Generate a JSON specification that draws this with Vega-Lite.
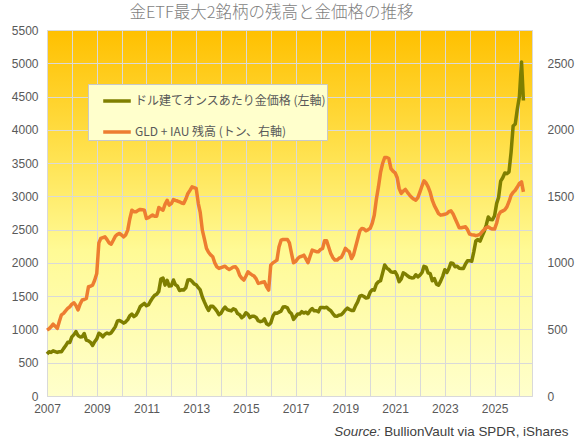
{
  "$schema": "https://vega.github.io/schema/vega-lite/v6.json",
  "description": "Gold price in USD per ounce (left axis) and combined GLD + IAU holdings in tonnes (right axis), monthly, 2007-2026.",
  "width": 485,
  "height": 366,
  "autosize": {"type": "none"},
  "padding": {"left": 47, "top": 30, "right": 44, "bottom": 46},
  "background": "white",
  "title": {
    "text": "金ETF最大2銘柄の残高と金価格の推移",
    "font": "Noto Sans CJK JP",
    "fontSize": 16.5,
    "fontWeight": 300,
    "color": "#7F7F7F",
    "anchor": "middle",
    "offset": 3,
    "dx": -18
  },
  "data": {
    "values": [
      {"d": "2007-01", "g": 631, "e": 495}, {"d": "2007-02", "g": 665, "e": 505}, {"d": "2007-03", "g": 655, "e": 520}, {"d": "2007-04", "g": 679, "e": 540}, {"d": "2007-05", "g": 667, "e": 525}, {"d": "2007-06", "g": 655, "e": 508}, {"d": "2007-07", "g": 665, "e": 560}, {"d": "2007-08", "g": 665, "e": 610}, {"d": "2007-09", "g": 712, "e": 621}, {"d": "2007-10", "g": 754, "e": 640}, {"d": "2007-11", "g": 806, "e": 658}, {"d": "2007-12", "g": 803, "e": 670},
      {"d": "2008-01", "g": 889, "e": 690}, {"d": "2008-02", "g": 922, "e": 700}, {"d": "2008-03", "g": 968, "e": 680}, {"d": "2008-04", "g": 909, "e": 646}, {"d": "2008-05", "g": 888, "e": 690}, {"d": "2008-06", "g": 890, "e": 721}, {"d": "2008-07", "g": 939, "e": 725}, {"d": "2008-08", "g": 839, "e": 733}, {"d": "2008-09", "g": 829, "e": 821}, {"d": "2008-10", "g": 807, "e": 825}, {"d": "2008-11", "g": 760, "e": 833}, {"d": "2008-12", "g": 816, "e": 870},
      {"d": "2009-01", "g": 858, "e": 921}, {"d": "2009-02", "g": 943, "e": 1150}, {"d": "2009-03", "g": 924, "e": 1184}, {"d": "2009-04", "g": 890, "e": 1190}, {"d": "2009-05", "g": 928, "e": 1196}, {"d": "2009-06", "g": 946, "e": 1175}, {"d": "2009-07", "g": 934, "e": 1150}, {"d": "2009-08", "g": 949, "e": 1141}, {"d": "2009-09", "g": 996, "e": 1170}, {"d": "2009-10", "g": 1043, "e": 1200}, {"d": "2009-11", "g": 1127, "e": 1215}, {"d": "2009-12", "g": 1134, "e": 1221},
      {"d": "2010-01", "g": 1118, "e": 1210}, {"d": "2010-02", "g": 1095, "e": 1196}, {"d": "2010-03", "g": 1113, "e": 1210}, {"d": "2010-04", "g": 1148, "e": 1246}, {"d": "2010-05", "g": 1205, "e": 1330}, {"d": "2010-06", "g": 1232, "e": 1396}, {"d": "2010-07", "g": 1193, "e": 1385}, {"d": "2010-08", "g": 1215, "e": 1384}, {"d": "2010-09", "g": 1271, "e": 1395}, {"d": "2010-10", "g": 1343, "e": 1402}, {"d": "2010-11", "g": 1370, "e": 1400}, {"d": "2010-12", "g": 1391, "e": 1396},
      {"d": "2011-01", "g": 1356, "e": 1334}, {"d": "2011-02", "g": 1372, "e": 1340}, {"d": "2011-03", "g": 1424, "e": 1350}, {"d": "2011-04", "g": 1474, "e": 1359}, {"d": "2011-05", "g": 1512, "e": 1351}, {"d": "2011-06", "g": 1529, "e": 1351}, {"d": "2011-07", "g": 1572, "e": 1416}, {"d": "2011-08", "g": 1756, "e": 1405}, {"d": "2011-09", "g": 1772, "e": 1396}, {"d": "2011-10", "g": 1666, "e": 1440}, {"d": "2011-11", "g": 1739, "e": 1471}, {"d": "2011-12", "g": 1652, "e": 1434},
      {"d": "2012-01", "g": 1656, "e": 1445}, {"d": "2012-02", "g": 1743, "e": 1476}, {"d": "2012-03", "g": 1674, "e": 1470}, {"d": "2012-04", "g": 1650, "e": 1465}, {"d": "2012-05", "g": 1585, "e": 1459}, {"d": "2012-06", "g": 1596, "e": 1450}, {"d": "2012-07", "g": 1594, "e": 1446}, {"d": "2012-08", "g": 1627, "e": 1480}, {"d": "2012-09", "g": 1745, "e": 1522}, {"d": "2012-10", "g": 1747, "e": 1545}, {"d": "2012-11", "g": 1722, "e": 1571}, {"d": "2012-12", "g": 1685, "e": 1565},
      {"d": "2013-01", "g": 1671, "e": 1559}, {"d": "2013-02", "g": 1627, "e": 1446}, {"d": "2013-03", "g": 1593, "e": 1380}, {"d": "2013-04", "g": 1487, "e": 1246}, {"d": "2013-05", "g": 1414, "e": 1180}, {"d": "2013-06", "g": 1343, "e": 1109}, {"d": "2013-07", "g": 1286, "e": 1080}, {"d": "2013-08", "g": 1347, "e": 1060}, {"d": "2013-09", "g": 1349, "e": 1046}, {"d": "2013-10", "g": 1316, "e": 1000}, {"d": "2013-11", "g": 1276, "e": 970}, {"d": "2013-12", "g": 1222, "e": 959},
      {"d": "2014-01", "g": 1244, "e": 965}, {"d": "2014-02", "g": 1301, "e": 971}, {"d": "2014-03", "g": 1336, "e": 975}, {"d": "2014-04", "g": 1299, "e": 960}, {"d": "2014-05", "g": 1288, "e": 951}, {"d": "2014-06", "g": 1279, "e": 960}, {"d": "2014-07", "g": 1311, "e": 970}, {"d": "2014-08", "g": 1296, "e": 971}, {"d": "2014-09", "g": 1239, "e": 950}, {"d": "2014-10", "g": 1222, "e": 908}, {"d": "2014-11", "g": 1176, "e": 885}, {"d": "2014-12", "g": 1200, "e": 871},
      {"d": "2015-01", "g": 1251, "e": 900}, {"d": "2015-02", "g": 1227, "e": 933}, {"d": "2015-03", "g": 1179, "e": 920}, {"d": "2015-04", "g": 1198, "e": 910}, {"d": "2015-05", "g": 1199, "e": 901}, {"d": "2015-06", "g": 1181, "e": 880}, {"d": "2015-07", "g": 1131, "e": 846}, {"d": "2015-08", "g": 1117, "e": 850}, {"d": "2015-09", "g": 1125, "e": 855}, {"d": "2015-10", "g": 1159, "e": 858}, {"d": "2015-11", "g": 1086, "e": 820}, {"d": "2015-12", "g": 1068, "e": 796},
      {"d": "2016-01", "g": 1097, "e": 983}, {"d": "2016-02", "g": 1200, "e": 1000}, {"d": "2016-03", "g": 1246, "e": 1010}, {"d": "2016-04", "g": 1242, "e": 1021}, {"d": "2016-05", "g": 1260, "e": 1120}, {"d": "2016-06", "g": 1276, "e": 1171}, {"d": "2016-07", "g": 1337, "e": 1176}, {"d": "2016-08", "g": 1341, "e": 1176}, {"d": "2016-09", "g": 1326, "e": 1176}, {"d": "2016-10", "g": 1267, "e": 1150}, {"d": "2016-11", "g": 1236, "e": 1071}, {"d": "2016-12", "g": 1152, "e": 1001},
      {"d": "2017-01", "g": 1192, "e": 1010}, {"d": "2017-02", "g": 1234, "e": 1033}, {"d": "2017-03", "g": 1231, "e": 1045}, {"d": "2017-04", "g": 1267, "e": 1050}, {"d": "2017-05", "g": 1246, "e": 1058}, {"d": "2017-06", "g": 1260, "e": 1030}, {"d": "2017-07", "g": 1236, "e": 1001}, {"d": "2017-08", "g": 1283, "e": 1050}, {"d": "2017-09", "g": 1314, "e": 1096}, {"d": "2017-10", "g": 1280, "e": 1090}, {"d": "2017-11", "g": 1282, "e": 1084}, {"d": "2017-12", "g": 1265, "e": 1084},
      {"d": "2018-01", "g": 1331, "e": 1100}, {"d": "2018-02", "g": 1331, "e": 1109}, {"d": "2018-03", "g": 1325, "e": 1166}, {"d": "2018-04", "g": 1335, "e": 1166}, {"d": "2018-05", "g": 1303, "e": 1120}, {"d": "2018-06", "g": 1282, "e": 1071}, {"d": "2018-07", "g": 1238, "e": 1040}, {"d": "2018-08", "g": 1202, "e": 1021}, {"d": "2018-09", "g": 1199, "e": 1021}, {"d": "2018-10", "g": 1215, "e": 1035}, {"d": "2018-11", "g": 1221, "e": 1041}, {"d": "2018-12", "g": 1250, "e": 1070},
      {"d": "2019-01", "g": 1292, "e": 1109}, {"d": "2019-02", "g": 1320, "e": 1095}, {"d": "2019-03", "g": 1300, "e": 1084}, {"d": "2019-04", "g": 1286, "e": 1033}, {"d": "2019-05", "g": 1284, "e": 1060}, {"d": "2019-06", "g": 1359, "e": 1121}, {"d": "2019-07", "g": 1413, "e": 1180}, {"d": "2019-08", "g": 1500, "e": 1240}, {"d": "2019-09", "g": 1511, "e": 1259}, {"d": "2019-10", "g": 1495, "e": 1255}, {"d": "2019-11", "g": 1471, "e": 1241}, {"d": "2019-12", "g": 1480, "e": 1250},
      {"d": "2020-01", "g": 1560, "e": 1260}, {"d": "2020-02", "g": 1597, "e": 1300}, {"d": "2020-03", "g": 1591, "e": 1359}, {"d": "2020-04", "g": 1683, "e": 1480}, {"d": "2020-05", "g": 1716, "e": 1571}, {"d": "2020-06", "g": 1732, "e": 1680}, {"d": "2020-07", "g": 1846, "e": 1747}, {"d": "2020-08", "g": 1968, "e": 1792}, {"d": "2020-09", "g": 1922, "e": 1792}, {"d": "2020-10", "g": 1901, "e": 1784}, {"d": "2020-11", "g": 1866, "e": 1709}, {"d": "2020-12", "g": 1858, "e": 1690},
      {"d": "2021-01", "g": 1867, "e": 1677}, {"d": "2021-02", "g": 1808, "e": 1640}, {"d": "2021-03", "g": 1718, "e": 1560}, {"d": "2021-04", "g": 1760, "e": 1522}, {"d": "2021-05", "g": 1850, "e": 1540}, {"d": "2021-06", "g": 1834, "e": 1552}, {"d": "2021-07", "g": 1807, "e": 1530}, {"d": "2021-08", "g": 1785, "e": 1510}, {"d": "2021-09", "g": 1775, "e": 1492}, {"d": "2021-10", "g": 1777, "e": 1480}, {"d": "2021-11", "g": 1822, "e": 1471}, {"d": "2021-12", "g": 1790, "e": 1490},
      {"d": "2022-01", "g": 1817, "e": 1534}, {"d": "2022-02", "g": 1856, "e": 1580}, {"d": "2022-03", "g": 1948, "e": 1617}, {"d": "2022-04", "g": 1937, "e": 1600}, {"d": "2022-05", "g": 1849, "e": 1571}, {"d": "2022-06", "g": 1837, "e": 1530}, {"d": "2022-07", "g": 1732, "e": 1471}, {"d": "2022-08", "g": 1765, "e": 1430}, {"d": "2022-09", "g": 1681, "e": 1400}, {"d": "2022-10", "g": 1665, "e": 1370}, {"d": "2022-11", "g": 1726, "e": 1359}, {"d": "2022-12", "g": 1798, "e": 1362},
      {"d": "2023-01", "g": 1898, "e": 1366}, {"d": "2023-02", "g": 1855, "e": 1370}, {"d": "2023-03", "g": 1912, "e": 1385}, {"d": "2023-04", "g": 2000, "e": 1391}, {"d": "2023-05", "g": 1992, "e": 1370}, {"d": "2023-06", "g": 1943, "e": 1334}, {"d": "2023-07", "g": 1951, "e": 1300}, {"d": "2023-08", "g": 1919, "e": 1264}, {"d": "2023-09", "g": 1916, "e": 1264}, {"d": "2023-10", "g": 1916, "e": 1268}, {"d": "2023-11", "g": 1985, "e": 1271}, {"d": "2023-12", "g": 2031, "e": 1250},
      {"d": "2024-01", "g": 2034, "e": 1216}, {"d": "2024-02", "g": 2025, "e": 1212}, {"d": "2024-03", "g": 2163, "e": 1210}, {"d": "2024-04", "g": 2331, "e": 1205}, {"d": "2024-05", "g": 2351, "e": 1209}, {"d": "2024-06", "g": 2326, "e": 1215}, {"d": "2024-07", "g": 2398, "e": 1234}, {"d": "2024-08", "g": 2470, "e": 1250}, {"d": "2024-09", "g": 2571, "e": 1265}, {"d": "2024-10", "g": 2690, "e": 1271}, {"d": "2024-11", "g": 2651, "e": 1260}, {"d": "2024-12", "g": 2648, "e": 1254},
      {"d": "2025-01", "g": 2709, "e": 1254}, {"d": "2025-02", "g": 2895, "e": 1300}, {"d": "2025-03", "g": 2984, "e": 1359}, {"d": "2025-04", "g": 3230, "e": 1384}, {"d": "2025-05", "g": 3280, "e": 1390}, {"d": "2025-06", "g": 3352, "e": 1400}, {"d": "2025-07", "g": 3340, "e": 1421}, {"d": "2025-08", "g": 3368, "e": 1460}, {"d": "2025-09", "g": 3665, "e": 1509}, {"d": "2025-10", "g": 4058, "e": 1530}, {"d": "2025-11", "g": 4087, "e": 1546}, {"d": "2025-12", "g": 4310, "e": 1570},
      {"d": "2026-01", "g": 4500, "e": 1597}, {"d": "2026-02", "g": 5020, "e": 1609}, {"d": "2026-03", "g": 4440, "e": 1534}
    ]
  },
  "layer": [
    {
      "mark": {"type": "line", "strokeWidth": 3.5, "strokeJoin": "round"},
      "encoding": {
        "x": {
          "field": "d",
          "type": "temporal",
          "scale": {"domain": ["2007-01-01", "2026-07-05"]},
          "axis": {
            "orient": "bottom",
            "values": [
              {"year": 2007}, {"year": 2008}, {"year": 2009}, {"year": 2010}, {"year": 2011},
              {"year": 2012}, {"year": 2013}, {"year": 2014}, {"year": 2015}, {"year": 2016},
              {"year": 2017}, {"year": 2018}, {"year": 2019}, {"year": 2020}, {"year": 2021},
              {"year": 2022}, {"year": 2023}, {"year": 2024}, {"year": 2025}, {"year": 2026}
            ],
            "labelExpr": "year(datum.value) % 2 == 1 ? timeFormat(datum.value, '%Y') : ''",
            "labelFlush": false,
            "labelOverlap": false,
            "grid": true,
            "ticks": false,
            "domain": false,
            "labelPadding": 7,
            "title": "BullionVault via SPDR, iShares",
            "titleFont": "Liberation Sans",
            "titleFontSize": 13.4,
            "titleFontWeight": "normal",
            "titleColor": "#404040",
            "titleAnchor": null,
            "titleAlign": "right",
            "titleBaseline": "middle",
            "titleX": 521,
            "titleY": 35
          }
        },
        "y": {
          "field": "g",
          "type": "quantitative",
          "scale": {"domain": [0, 5500], "nice": false},
          "axis": {
            "values": [0, 500, 1000, 1500, 2000, 2500, 3000, 3500, 4000, 4500, 5000, 5500],
            "format": "d",
            "grid": true,
            "ticks": false,
            "domain": false,
            "labelPadding": 9,
            "title": null
          }
        },
        "color": {
          "datum": "ドル建てオンスあたり金価格 (左軸)",
          "type": "nominal",
          "scale": {
            "domain": ["ドル建てオンスあたり金価格 (左軸)", "GLD + IAU 残高 (トン、右軸)"],
            "range": ["#7F7F00", "#ED7D31"]
          },
          "legend": {
            "title": null,
            "orient": "none",
            "legendX": 41,
            "legendY": 54,
            "direction": "vertical",
            "fillColor": "#FFFFCC",
            "strokeColor": "#C8C8C8",
            "padding": 1,
            "rowPadding": 8,
            "symbolType": "stroke",
            "symbolSize": 760,
            "symbolStrokeWidth": 3.5,
            "symbolOffset": 12,
            "labelOffset": 2,
            "labelFont": "Noto Sans CJK JP",
            "labelFontSize": 12,
            "labelColor": "#595959",
            "labelLimit": 400
          }
        }
      }
    },
    {
      "mark": {"type": "line", "strokeWidth": 3.5, "strokeJoin": "round"},
      "encoding": {
        "x": {
          "field": "d",
          "type": "temporal",
          "axis": {
            "orient": "bottom",
            "labels": false,
            "grid": false,
            "ticks": false,
            "domain": false,
            "title": "Source:",
            "titleFont": "Liberation Sans",
            "titleFontSize": 13.4,
            "titleFontStyle": "italic",
            "titleFontWeight": "normal",
            "titleColor": "#404040",
            "titleAnchor": null,
            "titleAlign": "right",
            "titleBaseline": "middle",
            "titleX": 333,
            "titleY": 35
          }
        },
        "y": {
          "field": "e",
          "type": "quantitative",
          "scale": {"domain": [0, 2750], "nice": false},
          "axis": {
            "orient": "right",
            "values": [0, 500, 1000, 1500, 2000, 2500],
            "format": "d",
            "grid": false,
            "ticks": false,
            "domain": false,
            "labelPadding": 15,
            "title": null
          }
        },
        "color": {"datum": "GLD + IAU 残高 (トン、右軸)", "type": "nominal"}
      }
    }
  ],
  "resolve": {"scale": {"y": "independent"}, "axis": {"x": "independent"}},
  "config": {
    "view": {
      "stroke": "#D9D9D9",
      "fill": {
        "gradient": "linear",
        "x1": 0, "y1": 0, "x2": 0, "y2": 1,
        "stops": [
          {"offset": 0, "color": "#FFC000"},
          {"offset": 0.35, "color": "#FFE352"},
          {"offset": 0.6, "color": "#FFFA95"},
          {"offset": 1, "color": "#FFFFCC"}
        ]
      }
    },
    "axis": {
      "labelFont": "Liberation Sans",
      "labelFontSize": 12,
      "labelColor": "#595959",
      "gridColor": "#D9D9D9",
      "gridWidth": 1
    }
  }
}
